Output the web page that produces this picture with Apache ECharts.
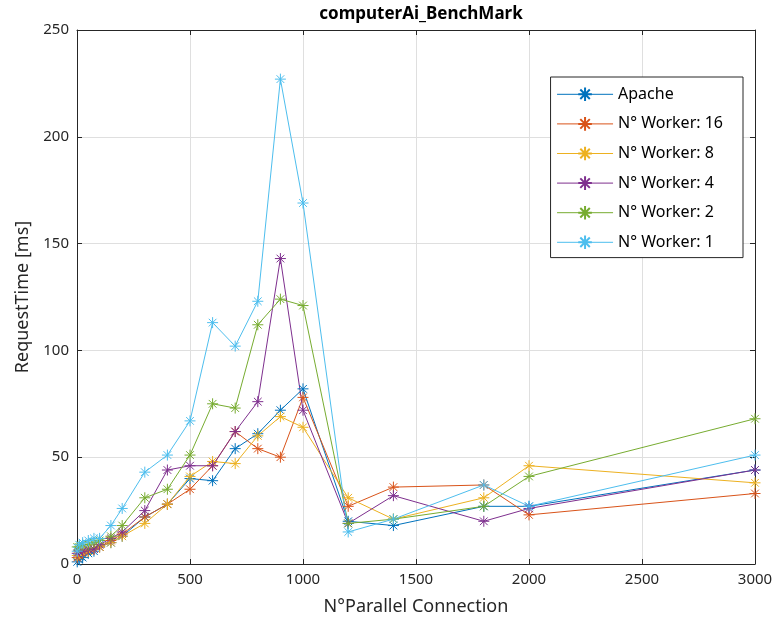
<!DOCTYPE html>
<html>
<head>
<meta charset="utf-8">
<script src="https://cdn.jsdelivr.net/npm/echarts@6/dist/echarts.min.js"></script>
<style>html,body{margin:0;background:#fff}#main{width:780px;height:633px}</style>
</head>
<body>
<div id="main"></div>
<script>
let connections = [1, 10, 25, 50, 75, 100, 150, 200, 300, 400, 500, 600, 700, 800, 900, 1000, 1200, 1400, 1800, 2000, 3000];
let names = ['Apache', 'N° Worker: 16', 'N° Worker: 8', 'N° Worker: 4', 'N° Worker: 2', 'N° Worker: 1'];
let apache = [1, 2, 3, 5, 6, 8, 10, 13, 22, 28, 40, 39, 54, 61, 72, 82, 20, 18, 27, 27, 44];
let worker16 = [3, 4, 5, 6, 7, 8, 11, 14, 22, 28, 35, 46, 62, 54, 50, 78, 27, 36, 37, 23, 33];
let worker8 = [4, 5, 6, 6, 7, 8, 10, 13, 19, 28, 41, 48, 47, 60, 69, 64, 31, 21, 31, 46, 38];
let worker4 = [5, 6, 6, 7, 7, 9, 12, 15, 25, 44, 46, 46, 62, 76, 143, 72, 19, 32, 20, 26, 44];
let worker2 = [8, 8, 9, 9, 10, 11, 13, 18, 31, 35, 51, 75, 73, 112, 124, 121, 19, 21, 27, 41, 68];
let worker1 = [6, 9, 10, 11, 12, 12, 18, 26, 43, 51, 67, 113, 102, 123, 227, 169, 15, 21, 37, 27, 51];
let colors = ['#0072BD', '#D95319', '#EDB120', '#7E2F8E', '#77AC30', '#4DBEEE'];

let allData = [apache, worker16, worker8, worker4, worker2, worker1];
let star = 'path://M0,-10L0,10M-10,0L10,0M-7,-7L7,7M-7,7L7,-7';

let chart = echarts.init(document.getElementById('main'));

let series = allData.map((d, i) => ({
  name: names[i],
  type: 'line',
  data: d.map((v, j) => [connections[j], v]),
  symbol: star,
  symbolSize: 11,
  showSymbol: true,
  lineStyle: { color: colors[i], width: 1 },
  itemStyle: { color: 'none', borderColor: colors[i], borderWidth: 1 }
}));

let axisCommon = {
  axisLine: { show: true, onZero: false, lineStyle: { color: '#262626' } },
  axisTick: { inside: true, length: 5, lineStyle: { color: '#262626' } },
  axisLabel: { color: '#262626', fontSize: 15, fontFamily: 'Noto Sans' },
  splitLine: { show: true, lineStyle: { color: '#dfdfdf' } },
  nameLocation: 'middle',
  nameTextStyle: { color: '#262626', fontSize: 18, fontFamily: 'Noto Sans' }
};
let boxAxis = {
  axisLine: { show: true, onZero: false, lineStyle: { color: '#262626' } },
  axisTick: { inside: true, length: 5, lineStyle: { color: '#262626' } },
  axisLabel: { show: false },
  splitLine: { show: false }
};

let option = {
  backgroundColor: '#fff',
  color: colors,
  title: {
    text: 'computerAi_BenchMark',
    left: 416, top: 1, textAlign: 'center',
    textStyle: { fontSize: 17, fontWeight: 'bold', color: '#000', fontFamily: 'Noto Sans' }
  },
  legend: {
    orient: 'vertical',
    right: 37, top: 77,
    backgroundColor: '#fff',
    borderColor: '#262626', borderWidth: 1,
    padding: [8, 20, 6, 6],
    itemGap: 11,
    itemWidth: 56, itemHeight: 17,
    lineStyle: { width: 1 },
    textStyle: { fontSize: 16, color: '#000', fontFamily: 'Noto Sans' },
    data: names
  },
  grid: { left: 77, right: 25, top: 30, bottom: 69 },
  xAxis: [
    Object.assign({}, axisCommon, {
      type: 'value', min: 0, max: 3000, interval: 500,
      name: 'N°Parallel Connection', nameGap: 34,
      axisLabel: Object.assign({}, axisCommon.axisLabel, { formatter: v => String(v) })
    }),
    Object.assign({}, boxAxis, { type: 'value', min: 0, max: 3000, interval: 500, position: 'top' })
  ],
  yAxis: [
    Object.assign({}, axisCommon, {
      type: 'value', min: 0, max: 250, interval: 50,
      name: 'RequestTime [ms]', nameGap: 42
    }),
    Object.assign({}, boxAxis, { type: 'value', min: 0, max: 250, interval: 50, position: 'right' })
  ],
  series: series
};

chart.setOption(option);
</script>
</body>
</html>
